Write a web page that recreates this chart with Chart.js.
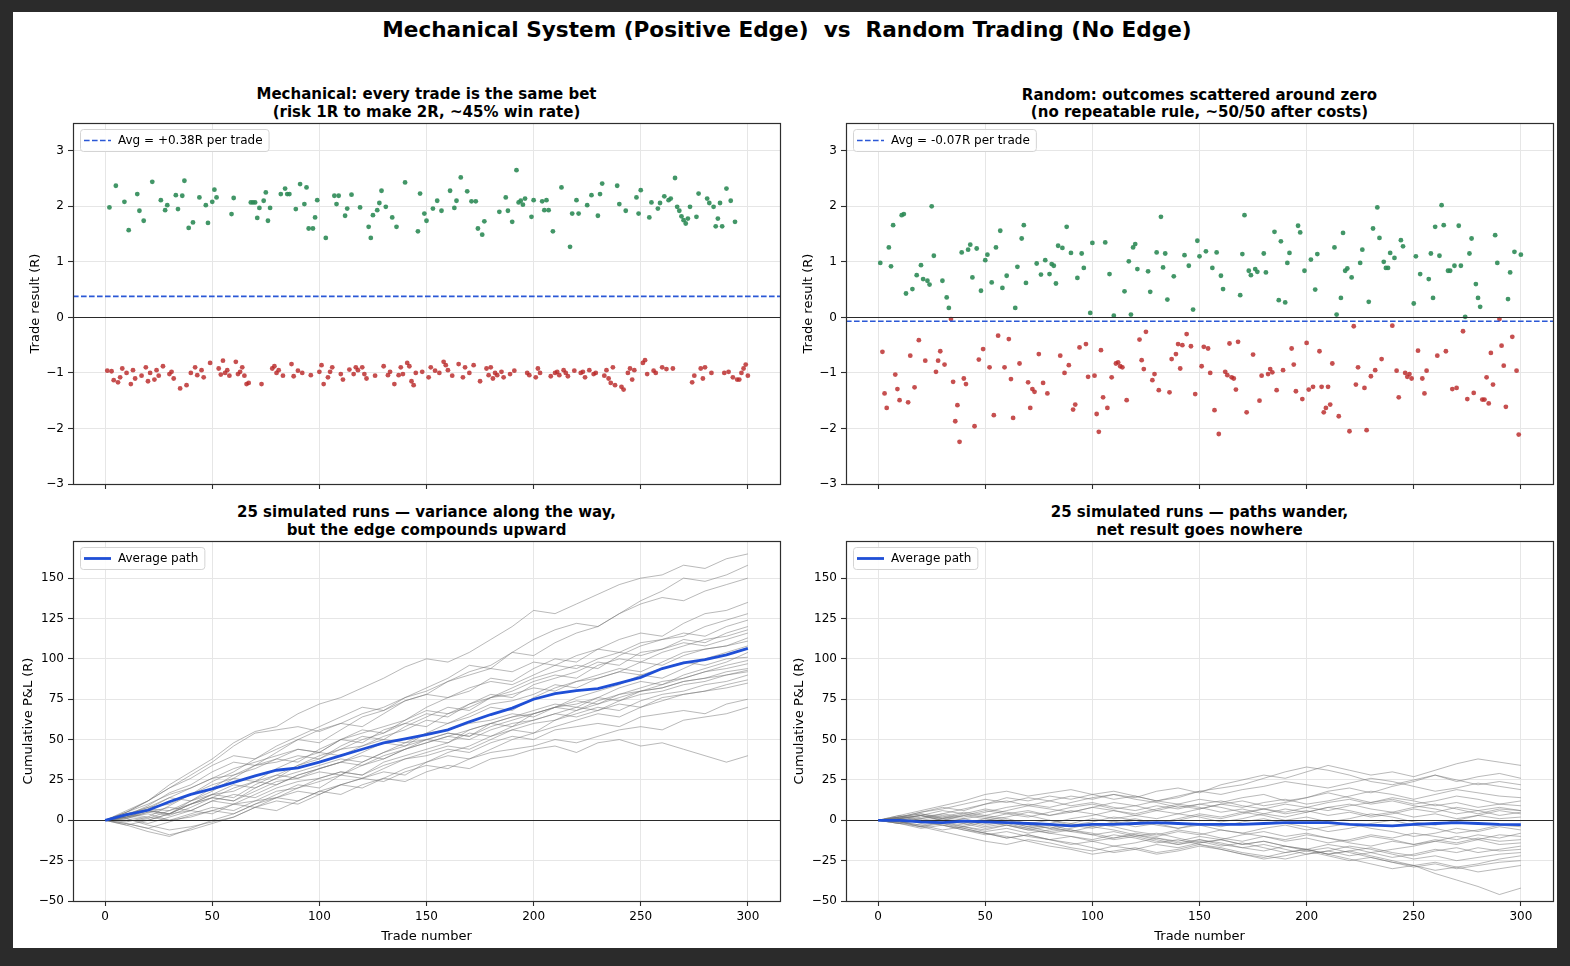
<!DOCTYPE html>
<html><head><meta charset="utf-8">
<script src="https://cdn.jsdelivr.net/npm/chart.js@4.4.1/dist/chart.umd.min.js"></script>
<style>
html,body{margin:0;padding:0;background:#2b2b2b;width:1570px;height:966px;overflow:hidden;font-family:'DejaVu Sans',sans-serif;}
#page{position:absolute;left:13px;top:12px;width:1544px;height:936px;background:#fff;}
canvas{position:absolute;}
.t{position:absolute;text-align:center;font-weight:bold;color:#000;white-space:nowrap;}
.sup{font-size:21.6px;left:0;width:1574px;top:17px;line-height:26px;}
.sub{font-size:15px;line-height:17.5px;width:707px;}
</style></head><body>
<div id="page"></div>
<div class="t sup">Mechanical System (Positive Edge)&nbsp; vs &nbsp;Random Trading (No Edge)</div>
<div class="t sub" style="left:73px;top:86px">Mechanical: every trade is the same bet<br>(risk 1R to make 2R, ~45% win rate)</div>
<div class="t sub" style="left:846px;top:86.5px">Random: outcomes scattered around zero<br>(no repeatable rule, ~50/50 after costs)</div>
<div class="t sub" style="left:73px;top:504px">25 simulated runs — variance along the way,<br>but the edge compounds upward</div>
<div class="t sub" style="left:846px;top:504px">25 simulated runs — paths wander,<br>net result goes nowhere</div>
<canvas id="c1" width="780" height="390" style="left:13px;top:115px;width:780px;height:390px"></canvas>
<canvas id="c2" width="774" height="390" style="left:783px;top:115px;width:774px;height:390px"></canvas>
<canvas id="c3" width="780" height="415" style="left:13px;top:533px;width:780px;height:415px"></canvas>
<canvas id="c4" width="774" height="415" style="left:783px;top:533px;width:774px;height:415px"></canvas>
<script>
// ---------------- DATA ----------------
const xTickValues = [0, 50, 100, 150, 200, 250, 300];
const resultTicks = [-3, -2, -1, 0, 1, 2, 3];
const pnlTicks = [-50, -25, 0, 25, 50, 75, 100, 125, 150];
const pathTrades = [0,10,20,30,40,50,60,70,80,90,100,110,120,130,140,150,160,170,180,190,200,210,220,230,240,250,260,270,280,290,300];

const mechAvg = 0.38;
const randAvg = -0.07;

// per-trade results, trade 1..300 (R multiples)
const mechResults = [
-0.96,1.98,-0.97,-1.13,2.37,-1.17,-1.08,-0.92,2.08,-1.0,
1.57,-1.2,-0.95,-1.1,2.22,1.92,-1.05,1.74,-0.9,-1.15,
-1.0,2.44,-1.12,-0.95,-1.05,2.11,-0.88,1.93,2.02,-1.02,
-0.98,-1.1,2.2,1.95,-1.28,2.19,2.46,-1.22,1.61,-1.0,
1.71,-0.9,-1.04,2.16,-0.95,-1.08,2.02,1.7,-0.82,2.08,
2.3,2.16,-0.92,-1.03,-0.78,-1.0,-0.95,-1.05,1.86,2.15,
-0.8,-1.02,-0.98,-0.9,-1.05,-1.2,-1.18,2.07,2.07,2.07,
1.79,1.97,-1.2,2.1,2.25,1.74,1.97,-0.92,-0.88,-1.0,
-0.95,2.22,-1.05,2.32,2.22,2.22,-0.84,-1.06,1.95,-0.96,
2.4,-1.0,2.04,2.34,1.6,-1.04,1.6,1.8,2.11,-0.98,
-0.86,-1.2,1.43,-1.08,-0.98,-0.9,2.19,2.04,2.19,-1.02,
-1.12,1.83,1.96,-0.94,2.21,-1.02,-0.9,-0.95,1.98,-0.9,
-1.02,-1.1,1.63,1.43,1.84,-1.05,1.93,2.06,2.28,-0.88,
1.99,-1.04,-0.98,1.8,-1.2,1.63,-1.04,-0.9,-1.02,2.43,
-0.82,-0.88,-1.15,-1.22,-1.0,1.55,2.23,-0.98,1.87,1.74,
-1.08,-0.9,1.96,-0.96,2.1,-1.0,1.92,-0.8,-0.86,-0.95,
2.28,-1.05,1.97,2.1,-0.84,2.52,-1.08,-0.9,2.27,-1.0,
2.09,-0.86,2.09,1.6,-1.15,1.49,1.73,-0.92,-1.04,-0.9,
-1.1,-1.0,-1.04,1.9,-0.98,-1.08,2.16,1.92,-1.02,1.72,
-0.96,2.65,2.07,2.1,2.03,2.14,-1.0,-1.04,1.81,2.11,
-1.08,-0.92,-1.0,2.09,1.93,2.11,1.93,-1.06,1.55,-1.0,
-0.98,-1.04,2.34,-0.95,-1.0,-1.06,1.27,1.87,-0.96,2.11,
1.87,-1.0,-0.98,-1.08,2.02,-0.95,2.2,-1.02,-1.0,1.83,
2.22,2.41,-1.05,-0.95,-1.1,-1.18,-0.9,-1.22,2.37,2.04,
-1.25,-1.3,1.92,-1.0,-0.92,-1.12,-0.95,2.16,1.87,2.29,
-0.82,-0.77,-1.02,1.8,2.07,-0.96,-1.0,1.96,2.06,-0.9,
2.18,-0.93,2.11,2.14,-0.92,2.51,1.99,1.92,1.82,1.75,
1.69,1.78,1.99,-1.17,-1.05,1.81,2.23,-0.92,-1.1,-0.9,
2.14,2.06,-1.0,1.99,1.64,1.78,2.06,1.64,-1.0,2.32,
-0.98,2.1,-1.08,1.72,-1.12,-1.12,-1.0,-0.92,-0.85,-1.05
];

const randResults = [
0.98,-0.62,-1.37,-1.63,1.26,0.92,1.66,-1.03,-1.29,-1.49,
1.84,1.86,0.43,-1.53,-0.69,0.51,-1.26,0.76,-0.41,0.94,
0.69,-0.78,0.66,0.59,2.0,1.11,-0.98,-0.78,-0.61,0.66,
-0.85,0.36,0.17,-0.03,-1.16,-1.87,-1.58,-2.24,1.17,-1.1,
-1.2,1.22,1.31,0.72,-1.96,1.24,-0.76,0.48,-0.57,1.03,
1.13,-0.9,0.63,-1.76,1.26,-0.33,1.56,0.53,-0.9,0.75,
-0.39,-1.11,-1.81,0.17,0.91,-0.83,1.42,1.66,0.62,-1.17,
-1.63,-1.29,-1.34,0.97,-0.66,0.77,-1.18,1.03,-1.37,0.78,
0.96,0.93,0.61,1.29,-0.69,1.25,-1.0,1.63,-0.86,1.16,
-1.66,-1.57,0.71,-0.54,1.15,0.89,-0.48,-1.07,0.08,1.34,
-1.05,-1.74,-2.06,-0.59,-1.44,1.35,-1.63,0.78,-1.08,0.03,
-0.83,-0.81,-0.88,-0.9,0.47,-1.49,1.01,0.05,1.26,1.32,
0.87,-0.4,-0.77,-0.93,-0.26,0.83,0.46,-1.13,-1.02,1.17,
-1.31,1.81,0.9,1.15,0.32,-1.35,-0.75,0.74,-0.66,-0.48,
-0.92,-0.5,1.12,-0.3,0.93,-0.52,0.14,-1.38,1.38,1.1,
-0.88,-0.53,1.19,-0.56,-1.0,0.89,-1.67,1.17,-2.1,0.75,
0.51,-0.98,-1.04,-0.47,-1.08,-1.1,-1.3,-0.44,0.4,1.14,
1.84,-1.71,0.84,0.76,-0.67,0.87,0.82,-1.5,-1.05,1.15,
0.81,-1.02,-0.93,-0.99,1.54,-1.31,0.31,1.37,-0.95,0.27,
0.98,1.16,-0.56,-0.85,-1.33,1.65,1.53,-1.47,0.84,-0.46,
-1.3,1.04,-1.25,0.5,1.14,-0.61,-1.25,-1.71,-1.63,-1.25,
-1.57,-0.83,1.26,0.05,-1.78,0.35,1.52,0.84,0.88,-2.05,
0.72,-0.16,-1.21,-0.9,0.98,1.22,-1.27,-2.03,0.28,-1.06,
1.6,-0.95,1.98,1.43,-0.75,1.0,0.89,0.89,1.16,-0.15,
1.07,-0.96,-1.44,1.39,1.28,-1.0,-1.07,-1.02,-1.1,0.25,
1.1,-0.6,0.78,-1.1,-1.37,-0.96,0.69,1.15,0.35,1.63,
-0.69,1.11,2.02,1.66,-0.61,0.84,0.84,-1.29,0.93,-1.27,
1.65,0.93,-0.25,0.01,-1.47,1.15,1.42,-1.36,0.6,0.35,
0.19,-1.48,-1.48,-1.08,-1.55,-0.64,-1.21,1.48,0.98,-0.03,
-0.51,-0.87,-1.61,0.33,0.81,-0.35,1.18,-0.96,-2.11,1.13
];

// cumulative P&L of each simulated run, sampled at pathTrades
const mechRuns = [
[0,5,12,22,30,38,48,55,58,66,72,76,82,88,95,100,98,104,112,120,130,128,134,140,146,150,152,158,156,162,165],
[0,4,2,9,16,24,30,38,44,50,48,56,64,68,76,82,88,96,94,104,112,118,122,120,128,136,142,150,148,152,158],
[0,3,9,17,22,30,36,34,42,50,56,60,58,66,74,78,86,92,96,104,102,110,116,120,128,134,138,136,142,146,150],
[0,2,6,4,12,18,26,34,38,44,42,50,56,54,62,70,76,80,88,86,94,100,98,106,112,116,114,122,128,130,135],
[0,-3,0,4,10,16,14,22,28,34,38,46,52,50,58,64,70,68,76,82,88,92,96,94,102,108,112,114,120,124,128],
[0,5,12,20,28,36,46,54,56,58,55,60,66,70,76,80,86,90,94,92,98,96,102,106,104,110,112,116,114,120,124],
[0,4,7,14,12,20,28,32,38,36,44,50,48,56,60,66,64,72,78,76,84,88,92,98,96,104,106,112,110,116,120],
[0,1,5,3,8,14,12,20,26,34,40,44,50,54,60,58,66,70,76,80,86,90,88,96,100,98,104,108,112,114,118],
[0,6,12,20,26,34,40,38,46,52,58,64,70,68,74,78,76,82,86,84,90,96,94,100,104,102,106,110,108,112,116],
[0,2,0,4,6,12,10,16,22,28,32,36,42,48,46,54,60,64,70,68,76,82,86,90,94,92,98,104,106,108,113],
[0,4,8,10,16,22,26,24,32,38,42,40,46,52,56,62,60,66,72,74,78,84,82,88,92,98,96,102,106,108,111],
[0,-3,-7,-10,-5,0,4,10,16,22,20,28,34,38,44,48,52,56,60,58,66,70,76,80,84,90,88,94,100,104,108],
[0,2,6,4,10,14,20,24,22,28,32,36,34,40,44,50,54,52,60,64,68,72,70,76,82,86,84,90,94,98,104],
[0,5,10,16,20,26,32,36,40,44,42,50,54,58,62,68,66,72,76,78,82,80,86,88,92,90,94,98,96,100,101],
[0,-2,-5,-9,-6,-2,2,8,12,10,16,22,26,30,28,36,42,46,52,56,54,62,68,72,76,80,84,88,92,96,99],
[0,3,1,6,10,14,12,18,24,26,30,28,36,42,46,50,48,56,60,64,66,70,74,72,78,82,86,88,92,94,97],
[0,3,7,6,12,16,22,20,26,30,34,38,36,42,48,50,54,52,58,62,66,70,68,74,78,80,82,86,88,92,94],
[0,-1,2,0,4,8,6,12,18,20,26,30,28,36,40,44,48,54,52,58,62,66,70,68,74,78,80,84,86,90,92],
[0,3,8,14,20,26,28,34,36,40,38,44,46,50,48,54,56,60,62,66,64,70,72,76,74,80,82,86,88,90,93],
[0,2,4,0,2,6,10,8,14,20,24,28,26,32,38,42,46,44,50,56,60,62,66,70,68,74,78,80,84,86,90],
[0,1,-3,-6,-4,-1,2,8,6,12,18,22,20,26,32,36,40,38,44,50,54,58,62,66,64,70,74,78,80,84,87],
[0,3,6,4,10,16,18,24,28,26,32,36,40,38,44,48,52,50,56,60,62,66,64,68,72,70,76,78,80,82,85],
[0,2,5,8,6,12,16,14,20,24,26,30,28,34,38,40,44,42,48,52,50,56,58,60,58,64,66,68,66,72,75],
[0,1,-2,2,6,4,10,12,14,18,16,22,26,24,30,34,32,38,42,44,46,50,48,52,56,58,56,62,64,66,70],
[0,-2,-5,-1,3,6,4,10,14,12,18,16,22,26,24,30,34,32,38,40,44,46,42,48,50,46,48,44,40,36,40]
];
const mechAvgPath = [0,3.5,6.2,11.5,16,19.5,23.5,27.5,31,32.5,36,40,44,48,50.5,53,56,61,65.5,69.5,75,78.5,80.3,81.5,85,88.5,94,97.5,99.5,102.5,106.5];

const randRuns = [
[0,2,5,8,6,10,12,9,12,15,13,16,14,18,20,17,22,25,28,26,30,34,31,28,30,27,31,35,38,36,34],
[0,-1,2,4,7,10,14,12,15,13,16,18,15,12,14,18,20,22,26,30,33,31,28,24,22,25,28,24,27,29,26],
[0,3,6,9,12,16,18,15,17,19,16,13,15,12,10,13,11,14,16,12,14,18,20,17,21,24,28,25,22,24,22],
[0,1,-2,0,3,1,4,6,3,5,8,11,9,12,15,18,16,19,21,24,22,20,23,26,24,21,18,20,23,21,19],
[0,2,4,1,3,6,4,2,5,8,10,7,9,6,4,7,10,8,11,13,10,12,15,18,16,13,16,19,17,15,14],
[0,-2,-4,-1,-3,0,2,5,3,6,4,1,3,6,9,7,10,12,9,11,14,17,14,11,13,10,12,15,13,10,12],
[0,2,5,7,10,13,11,14,12,9,11,8,6,9,7,10,8,5,7,10,8,6,9,11,14,12,9,11,8,10,9],
[0,1,3,0,-2,1,-1,-4,-2,1,3,6,4,7,10,8,5,7,4,2,5,8,6,3,5,8,10,7,4,7,6],
[0,3,1,4,2,5,8,10,8,11,14,16,13,11,8,10,12,9,7,4,6,3,5,2,4,7,5,8,6,3,5],
[0,-1,1,3,1,-2,0,-3,-5,-2,-4,-1,1,-2,0,3,1,4,7,5,8,11,13,10,12,9,7,4,6,8,6],
[0,2,0,-2,1,3,6,9,7,5,8,6,3,1,4,2,-1,1,4,7,5,8,10,7,5,2,4,1,3,6,4],
[0,1,3,6,4,7,5,3,0,-2,1,-1,-4,-2,1,4,2,5,3,0,2,-1,1,4,2,-1,-3,0,3,1,2],
[0,-2,0,2,5,3,1,-2,0,-3,-1,2,0,-3,-5,-2,-4,-1,1,-2,-4,-7,-5,-2,0,-3,-5,-8,-6,-3,-4],
[0,-1,-3,-6,-4,-7,-5,-8,-6,-3,-5,-2,0,-2,-5,-3,-6,-8,-5,-3,-6,-4,-2,-5,-7,-10,-8,-5,-7,-4,-6],
[0,1,-1,-3,-6,-8,-11,-9,-12,-10,-13,-11,-8,-10,-7,-9,-6,-8,-10,-13,-11,-14,-12,-9,-11,-8,-10,-12,-9,-11,-8],
[0,-2,-5,-3,-6,-9,-7,-10,-12,-15,-13,-16,-14,-11,-13,-10,-12,-9,-7,-10,-8,-11,-13,-10,-12,-15,-13,-10,-12,-9,-10],
[0,2,4,2,0,-3,-1,-4,-7,-5,-2,-4,-7,-9,-6,-8,-11,-13,-10,-12,-9,-11,-14,-16,-13,-15,-12,-14,-11,-13,-12],
[0,-1,-4,-7,-10,-13,-15,-12,-14,-17,-19,-16,-18,-15,-17,-14,-12,-15,-13,-16,-18,-15,-17,-20,-18,-16,-13,-15,-12,-15,-14],
[0,1,3,0,-2,-5,-3,-6,-4,-7,-9,-12,-10,-13,-15,-12,-14,-17,-19,-16,-18,-21,-19,-17,-20,-22,-19,-17,-20,-18,-16],
[0,-2,0,-3,-5,-8,-10,-13,-16,-18,-21,-19,-17,-20,-18,-15,-17,-20,-22,-24,-21,-19,-22,-20,-23,-21,-18,-20,-17,-19,-18],
[0,1,-1,1,4,2,0,-2,-5,-7,-4,-6,-9,-11,-14,-12,-15,-17,-15,-18,-21,-19,-16,-18,-21,-24,-22,-25,-23,-21,-20],
[0,-1,-3,-1,-4,-6,-3,-5,-8,-10,-12,-9,-11,-14,-12,-15,-18,-21,-23,-20,-18,-21,-19,-22,-25,-28,-26,-29,-27,-24,-22],
[0,2,0,-2,-4,-1,-3,-6,-8,-6,-9,-7,-10,-8,-11,-14,-12,-15,-13,-16,-19,-17,-20,-23,-26,-29,-27,-30,-28,-26,-25],
[0,-1,-4,-2,-5,-8,-11,-9,-12,-14,-17,-20,-18,-21,-19,-16,-18,-21,-24,-22,-19,-22,-25,-23,-26,-28,-31,-29,-32,-30,-28],
[0,1,3,1,-1,-4,-2,-5,-3,-6,-8,-11,-9,-12,-15,-13,-16,-14,-17,-20,-18,-21,-24,-27,-30,-28,-33,-37,-41,-46,-42]
];
const randAvgPath = [0,0,-1,-1.5,-0.5,-1,-1.5,-2,-2.5,-3.5,-2.5,-2.5,-2,-1.5,-2,-2.5,-2.5,-2.5,-2,-1.5,-1.5,-1.5,-2.5,-3,-3.5,-2.5,-2,-1.5,-2,-2.5,-2.7];

// ---------------- STYLE / HELPERS ----------------
Chart.defaults.font.family = "'DejaVu Sans', sans-serif";
Chart.defaults.color = '#000';
const GREEN = 'rgba(46,139,87,0.9)';
const RED = 'rgba(185,40,40,0.82)';
const DASH_BLUE = '#2b58d6';
const AVG_BLUE = '#1f4fd6';
const GRAY_LINE = 'rgba(115,115,115,0.5)';

function fmt(v){ return (v < 0 ? '\u2212' : '') + Math.abs(v); }
function setTicks(values){ return function(scale){ scale.ticks = values.map(v => ({value: v})); }; }

function drawZero(chart){
  const {ctx, chartArea: a, scales: {y}} = chart;
  const py = Math.round(y.getPixelForValue(0)) + 0.5;
  ctx.save();
  ctx.beginPath(); ctx.moveTo(a.left, py); ctx.lineTo(a.right, py);
  ctx.strokeStyle = '#2a2a2a'; ctx.lineWidth = 1.2; ctx.stroke();
  ctx.restore();
}

const framePlugin = {
  id: 'frame',
  beforeDatasetDraw(chart, args, opts){
    const ds = chart.data.datasets[args.index];
    if (ds.isAvg) drawZero(chart);
  },
  afterDatasetsDraw(chart, args, opts){
    const {ctx, chartArea: a, scales: {y}} = chart;
    if (opts.zeroOnTop) drawZero(chart);
    if (opts.avgLine !== undefined){
      const py = y.getPixelForValue(opts.avgLine);
      ctx.save();
      ctx.beginPath(); ctx.setLineDash([5.6, 2.4]);
      ctx.moveTo(a.left, py); ctx.lineTo(a.right, py);
      ctx.strokeStyle = DASH_BLUE; ctx.lineWidth = 1.7; ctx.stroke();
      ctx.restore();
    }
  },
  afterDraw(chart, args, opts){
    const {ctx, chartArea: a} = chart;
    ctx.save();
    ctx.strokeStyle = '#2e2e2e'; ctx.lineWidth = 1.2;
    ctx.strokeRect(Math.round(a.left) + 0.5, Math.round(a.top) + 0.5, Math.round(a.right - a.left), Math.round(a.bottom - a.top));
    if (opts.legend){
      const L = opts.legend;
      ctx.font = "12px 'DejaVu Sans', sans-serif";
      const tw = ctx.measureText(L.text).width;
      const bx = a.left + 7, by = a.top + 6, bw = 38 + tw + 6, bh = 22;
      ctx.beginPath();
      ctx.roundRect(bx + 0.5, by + 0.5, bw, bh, 3);
      ctx.fillStyle = 'rgba(255,255,255,0.85)'; ctx.fill();
      ctx.strokeStyle = '#d4d4d4'; ctx.lineWidth = 1; ctx.stroke();
      ctx.beginPath();
      if (L.dash) ctx.setLineDash(L.dash);
      ctx.moveTo(bx + 4, by + 11.5); ctx.lineTo(bx + 31, by + 11.5);
      ctx.strokeStyle = L.color; ctx.lineWidth = L.width; ctx.stroke();
      ctx.setLineDash([]);
      ctx.fillStyle = '#000'; ctx.textBaseline = 'middle'; ctx.textAlign = 'left';
      ctx.fillText(L.text, bx + 38, by + 12);
    }
    ctx.restore();
  }
};

function axes(opt){
  return {
    x: {
      type: 'linear', min: -15, max: 315,
      afterBuildTicks: setTicks(xTickValues),
      afterFit(s){ s.height = opt.xh; s.paddingLeft = 0; s.paddingRight = 0; s.paddingTop = 0; s.paddingBottom = 0; },
      grid: {color: '#e6e6e6', lineWidth: 1, drawTicks: true, tickLength: 5, tickColor: '#2e2e2e', tickWidth: 1.1},
      border: {display: false},
      ticks: {display: opt.showX, padding: 4, maxRotation: 0, autoSkip: false, font: {size: 12}, color: '#000', callback: v => fmt(v)},
      title: {display: opt.showX, text: 'Trade number', font: {size: 13}, color: '#000', padding: {top: 0, bottom: 3.5}}
    },
    y: {
      type: 'linear', min: opt.ymin, max: opt.ymax,
      afterBuildTicks: setTicks(opt.yticks),
      afterFit(s){ s.width = opt.yw; s.paddingLeft = 0; s.paddingRight = 0; s.paddingTop = 0; s.paddingBottom = 0; },
      grid: {color: '#e6e6e6', lineWidth: 1, drawTicks: true, tickLength: 5, tickColor: '#2e2e2e', tickWidth: 1.1},
      border: {display: false},
      ticks: {padding: 4, font: {size: 12}, color: '#000', callback: v => fmt(v)},
      title: {display: true, text: opt.ytitle, font: {size: 13}, color: '#000', padding: {top: opt.ytp, bottom: 0}}
    }
  };
}

function scatterChart(id, results, avg, legendText, yw, ytp, pr){
  const wins = [], losses = [];
  results.forEach((v, i) => { (v >= 0 ? wins : losses).push({x: i + 1, y: v}); });
  return new Chart(document.getElementById(id), {
    type: 'scatter',
    data: {datasets: [
      {data: wins, backgroundColor: GREEN, pointRadius: 2.4, pointBorderWidth: 0, pointHoverRadius: 0},
      {data: losses, backgroundColor: RED, pointRadius: 2.4, pointBorderWidth: 0, pointHoverRadius: 0}
    ]},
    options: {
      responsive: false, animation: false, events: [],
      layout: {padding: {left: 0, right: pr, top: 8, bottom: 0}},
      plugins: {legend: {display: false}, tooltip: {enabled: false},
        frame: {zeroOnTop: true, avgLine: avg, legend: {text: legendText, color: DASH_BLUE, width: 1.7, dash: [5.6, 2.4]}}},
      scales: axes({xh: 21, showX: false, ymin: -3, ymax: 3.5, yticks: resultTicks, yw: yw, ytitle: 'Trade result (R)', ytp: ytp})
    },
    plugins: [framePlugin]
  });
}

function pathChart(id, runs, avgPath, yw, ytp, pr){
  const ds = runs.map(run => ({
    data: run.map((v, i) => ({x: pathTrades[i], y: v})),
    borderColor: GRAY_LINE, borderWidth: 1, pointRadius: 0, tension: 0, order: 1
  }));
  ds.push({
    isAvg: true, label: 'Average path',
    data: avgPath.map((v, i) => ({x: pathTrades[i], y: v})),
    borderColor: AVG_BLUE, borderWidth: 2.8, pointRadius: 0, tension: 0, order: 0
  });
  return new Chart(document.getElementById(id), {
    type: 'line',
    data: {datasets: ds},
    options: {
      responsive: false, animation: false, events: [],
      layout: {padding: {left: 0, right: pr, top: 8, bottom: 0}},
      plugins: {legend: {display: false}, tooltip: {enabled: false},
        frame: {legend: {text: 'Average path', color: AVG_BLUE, width: 2.8}}},
      scales: axes({xh: 47, showX: true, ymin: -50, ymax: 173, yticks: pnlTicks, yw: yw, ytitle: 'Cumulative P&L (R)', ytp: ytp})
    },
    plugins: [framePlugin]
  });
}

scatterChart('c1', mechResults, mechAvg, 'Avg = +0.38R per trade', 60, 14.5, 13);
scatterChart('c2', randResults, randAvg, 'Avg = -0.07R per trade', 63, 17.5, 4);
pathChart('c3', mechRuns, mechAvgPath, 60, 7.5, 13);
pathChart('c4', randRuns, randAvgPath, 63, 8.5, 4);
</script>
</body></html>
